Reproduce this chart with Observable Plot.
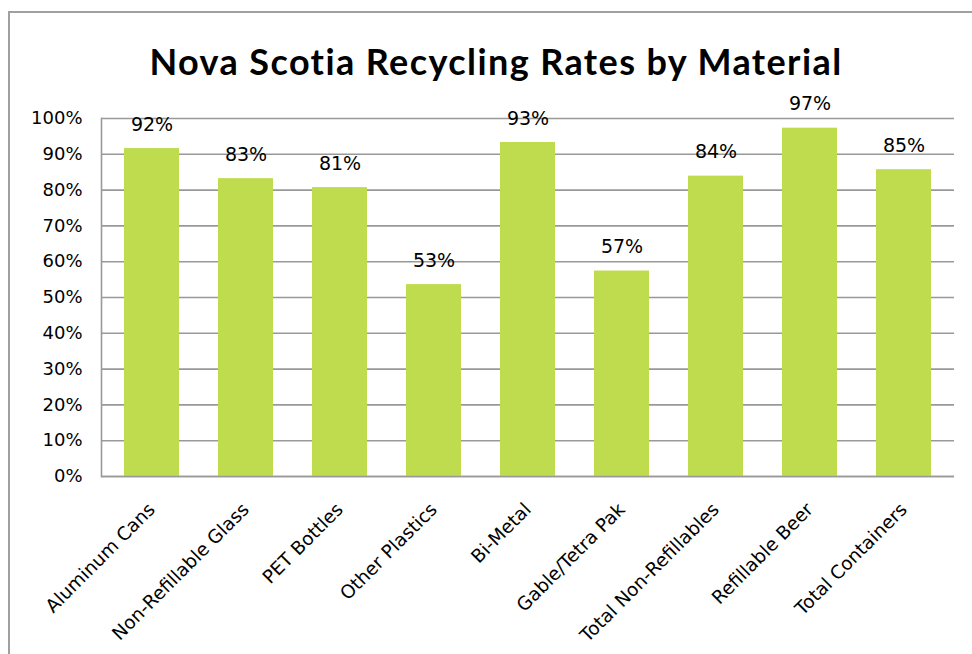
<!DOCTYPE html>
<html><head><meta charset="utf-8">
<script src="https://cdn.jsdelivr.net/npm/d3@7"></script>
<script src="https://cdn.jsdelivr.net/npm/@observablehq/plot@0.6"></script>
<style>
body{margin:0;background:#fff;}
#wrap{position:relative;width:972px;height:654px;overflow:hidden;}
#frame{position:absolute;left:8px;top:11px;width:2000px;height:2000px;border-left:2px solid #a0a0a0;border-top:2px solid #a0a0a0;}
#title{position:absolute;left:0;width:992px;top:43px;text-align:center;font-family:Lato;font-weight:700;font-size:36px;letter-spacing:1.4px;line-height:36px;color:#000;white-space:nowrap;}
#chart{position:absolute;left:0;top:0;}
</style></head><body>
<div id="wrap"><div id="frame"></div><div id="title">Nova Scotia Recycling Rates by Material</div><div id="chart"></div></div>
<script>
const materials = ["Aluminum Cans","Non-Refillable Glass","PET Bottles","Other Plastics","Bi-Metal","Gable/Tetra Pak","Total Non-Refillables","Refillable Beer","Total Containers"];
const rates = [91.6, 83.2, 80.7, 53.6, 93.3, 57.4, 83.9, 97.3, 85.7];
const rateLabels = ["92%","83%","81%","53%","93%","57%","84%","97%","85%"];
const yTicks = [0,10,20,30,40,50,60,70,80,90,100];

const data = materials.map((m,i)=>({material:m, rate:rates[i], label:rateLabels[i]}));

const plot = Plot.plot({
  width:972, height:654,
  marginLeft:101, marginRight:18, marginTop:118, marginBottom:178,
  style:{fontFamily:"DejaVu Sans", background:"transparent", color:"#000", overflow:"visible"},
  x:{domain:materials, paddingInner:0.42, paddingOuter:0.21, label:null},
  y:{domain:[0,100], label:null},
  marks:[
    Plot.gridY(yTicks,{stroke:"#999",strokeOpacity:1,strokeWidth:1.6}),
    Plot.barY(data,{x:"material",y:"rate",fill:"#bfdc4f"}),
    Plot.ruleY([0],{stroke:"#999",strokeWidth:1.6}),
    Plot.frame({anchor:"left",stroke:"#999",strokeWidth:1.6}),
    Plot.axisY(yTicks,{tickSize:0,tickPadding:19,tickFormat:d=>d+"%",fontSize:18,label:null}),
    Plot.axisX({tickSize:0,tickPadding:30,tickRotate:-45,fontSize:18.5,label:null}),
    Plot.text(data,{x:"material",y:"rate",text:"label",dy:-24,fontSize:19})
  ]
});
document.getElementById("chart").appendChild(plot);
</script>
</body></html>
